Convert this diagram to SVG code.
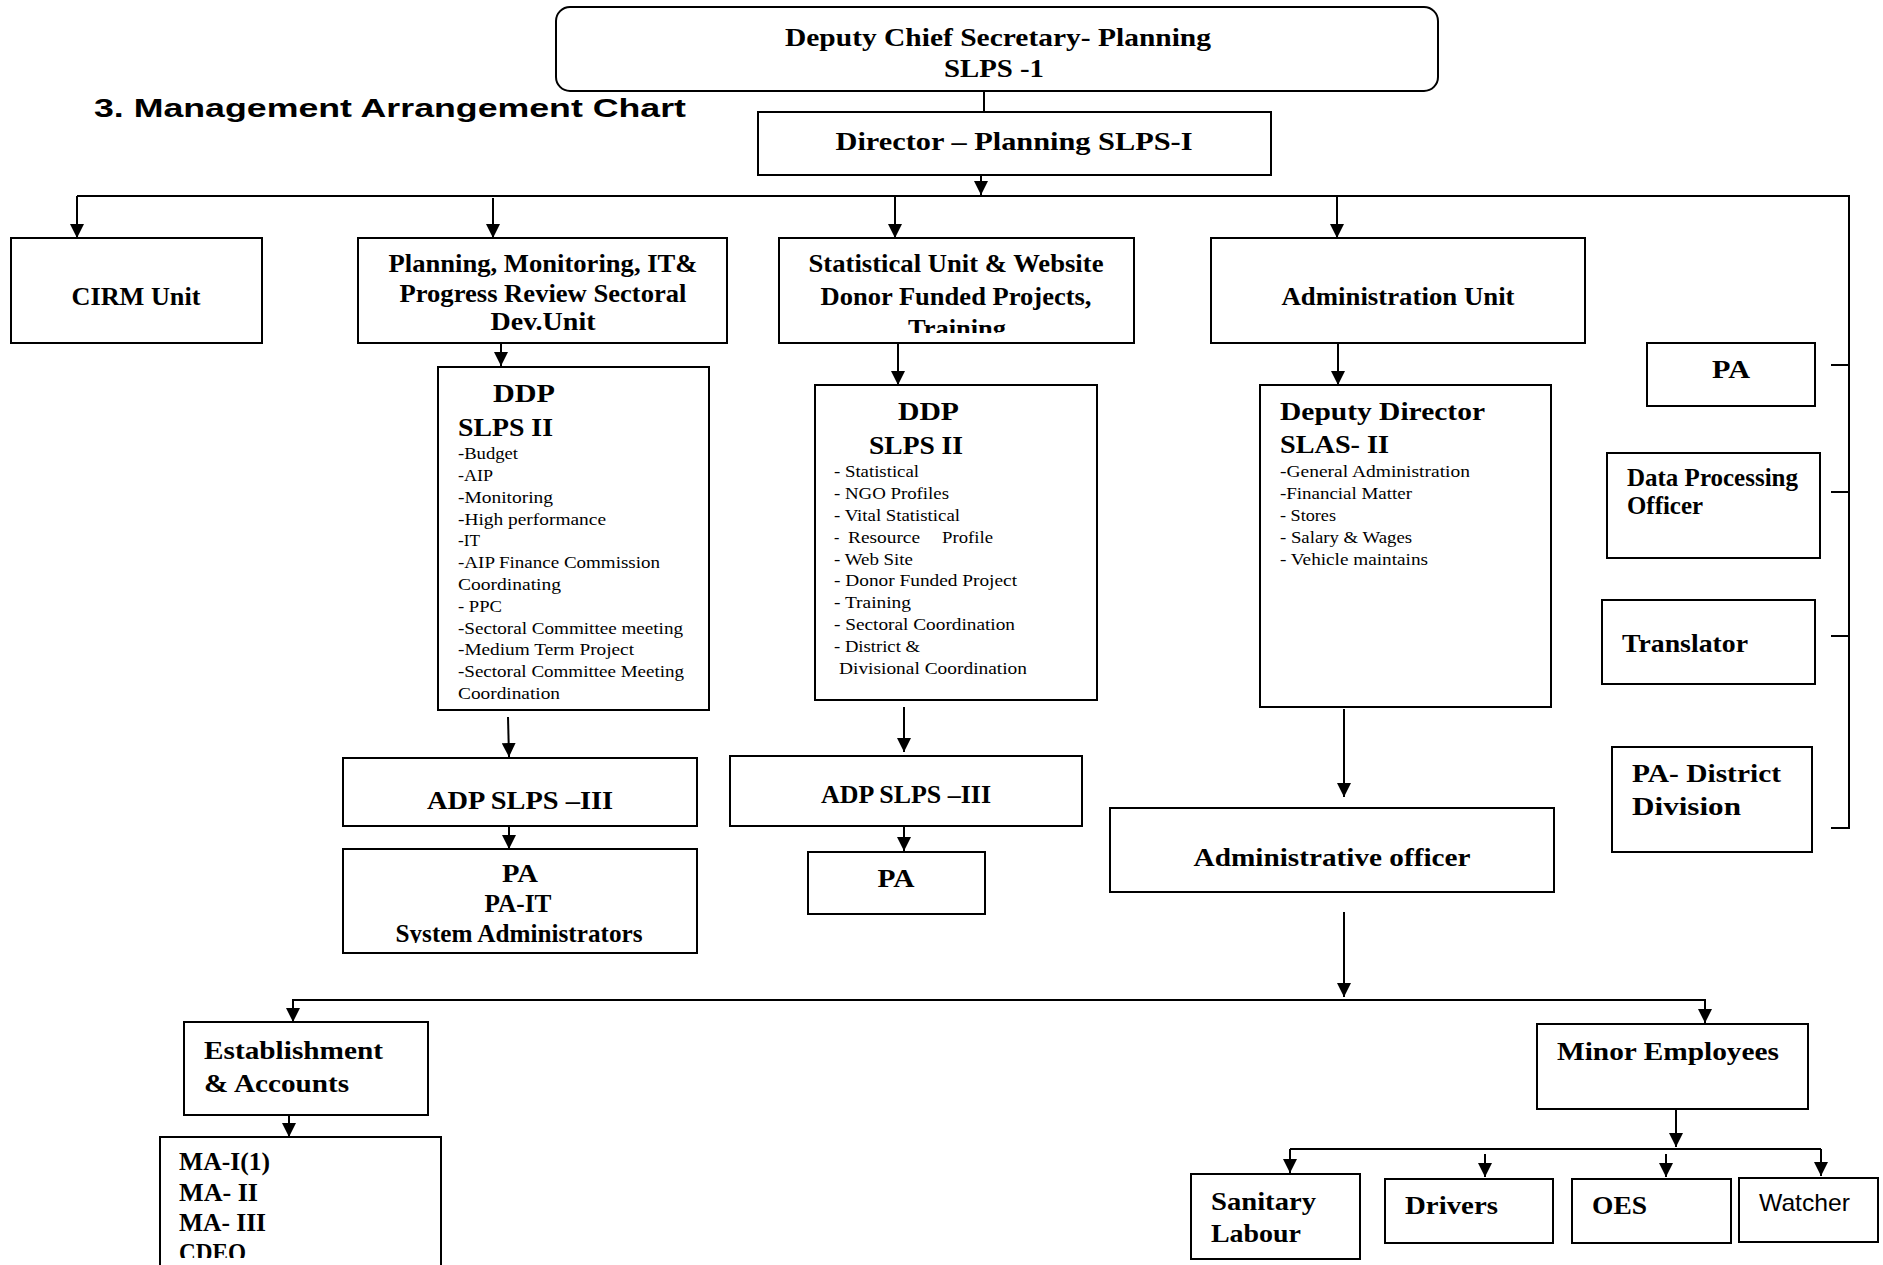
<svg xmlns="http://www.w3.org/2000/svg" width="1883" height="1265" viewBox="0 0 1883 1265">
  <style>
    .box { fill: #fff; stroke: #000; stroke-width: 2; }
    .h { font-family: "Liberation Serif", "Times New Roman", serif; font-weight: bold; font-size: 26px; fill: #000; }
    .s { font-family: "Liberation Serif", "Times New Roman", serif; font-size: 16px; fill: #000; }
    .sans { font-family: "Liberation Sans", Arial, sans-serif; fill: #000; }
    .mid { text-anchor: middle; }
    #connectors line, #connectors polyline { stroke: #000; stroke-width: 2; fill: none; }
  </style>
  <defs>
    <marker id="arrow" markerUnits="userSpaceOnUse" markerWidth="14" markerHeight="14" refX="14" refY="7" orient="auto">
      <path d="M0,0 L14,7 L0,14 z" fill="#000"/>
    </marker>
    <clipPath id="clipStat"><rect x="779" y="238" width="355" height="95"/></clipPath>
    <clipPath id="clipDdp1"><rect x="438" y="367" width="271" height="333"/></clipPath>
    <clipPath id="clipPa1"><rect x="343" y="848" width="354" height="95"/></clipPath>
    <clipPath id="clipMa"><rect x="160" y="1137" width="281" height="121"/></clipPath>
  </defs>

  <rect width="1883" height="1265" fill="#fff"/>

  <text class="sans" x="94" y="117" font-size="25" font-weight="bold" textLength="592" lengthAdjust="spacingAndGlyphs">3. Management Arrangement Chart</text>

  <g id="connectors">
    <line x1="984" y1="91" x2="984" y2="112"/>
    <line x1="981" y1="175" x2="981" y2="195" marker-end="url(#arrow)"/>
    <polyline points="77,196 1849,196 1849,828 1831,828"/>
    <line x1="1831" y1="365" x2="1849" y2="365"/>
    <line x1="1831" y1="492" x2="1849" y2="492"/>
    <line x1="1831" y1="636" x2="1849" y2="636"/>
    <line x1="77" y1="196" x2="77" y2="238" marker-end="url(#arrow)"/>
    <line x1="493" y1="198" x2="493" y2="238" marker-end="url(#arrow)"/>
    <line x1="895" y1="196" x2="895" y2="238" marker-end="url(#arrow)"/>
    <line x1="1337" y1="196" x2="1337" y2="238" marker-end="url(#arrow)"/>
    <line x1="501" y1="343" x2="501" y2="366" marker-end="url(#arrow)"/>
    <line x1="898" y1="343" x2="898" y2="385" marker-end="url(#arrow)"/>
    <line x1="1338" y1="343" x2="1338" y2="385" marker-end="url(#arrow)"/>
    <line x1="508" y1="717" x2="509" y2="757" marker-end="url(#arrow)"/>
    <line x1="904" y1="707" x2="904" y2="752" marker-end="url(#arrow)"/>
    <line x1="509" y1="826" x2="509" y2="849" marker-end="url(#arrow)"/>
    <line x1="904" y1="826" x2="904" y2="851" marker-end="url(#arrow)"/>
    <line x1="1344" y1="709" x2="1344" y2="797" marker-end="url(#arrow)"/>
    <line x1="1344" y1="912" x2="1344" y2="997" marker-end="url(#arrow)"/>
    <polyline points="293,1022 293,1000 1705,1000 1705,1023"/>
    <line x1="293" y1="1000" x2="293" y2="1022" marker-end="url(#arrow)"/>
    <line x1="1705" y1="1000" x2="1705" y2="1023" marker-end="url(#arrow)"/>
    <line x1="289" y1="1115" x2="289" y2="1137" marker-end="url(#arrow)"/>
    <line x1="1676" y1="1108" x2="1676" y2="1147" marker-end="url(#arrow)"/>
    <polyline points="1290,1149 1821,1149"/>
    <line x1="1290" y1="1149" x2="1290" y2="1173" marker-end="url(#arrow)"/>
    <line x1="1485" y1="1154" x2="1485" y2="1177" marker-end="url(#arrow)"/>
    <line x1="1666" y1="1154" x2="1666" y2="1177" marker-end="url(#arrow)"/>
    <line x1="1821" y1="1149" x2="1821" y2="1176" marker-end="url(#arrow)"/>
  </g>

  <!-- top level -->
  <g id="deputy-chief-secretary">
    <rect class="box" x="556" y="7" width="882" height="84" rx="14"/>
    <text class="h mid" x="998" y="46" font-size="27" textLength="426" lengthAdjust="spacingAndGlyphs">Deputy Chief Secretary- Planning</text>
    <text class="h mid" x="994" y="77" font-size="27" textLength="100" lengthAdjust="spacingAndGlyphs">SLPS -1</text>
  </g>

  <g id="director-planning">
    <rect class="box" x="758" y="112" width="513" height="63"/>
    <text class="h mid" x="1014" y="150" font-size="30" textLength="357" lengthAdjust="spacingAndGlyphs">Director – Planning SLPS-I</text>
  </g>

  <!-- units -->
  <g id="cirm-unit">
    <rect class="box" x="11" y="238" width="251" height="105"/>
    <text class="h mid" x="136" y="305" textLength="129" lengthAdjust="spacingAndGlyphs">CIRM Unit</text>
  </g>

  <g id="planning-unit">
    <rect class="box" x="358" y="238" width="369" height="105"/>
    <text class="h mid" x="543" y="272" textLength="309" lengthAdjust="spacingAndGlyphs">Planning, Monitoring, IT&amp;</text>
    <text class="h mid" x="543" y="302" textLength="287" lengthAdjust="spacingAndGlyphs">Progress Review Sectoral</text>
    <text class="h mid" x="543" y="330" textLength="105" lengthAdjust="spacingAndGlyphs">Dev.Unit</text>
  </g>

  <g id="statistical-unit">
    <rect class="box" x="779" y="238" width="355" height="105"/>
    <text class="h mid" x="956" y="272" textLength="295" lengthAdjust="spacingAndGlyphs">Statistical Unit &amp; Website</text>
    <text class="h mid" x="956" y="305" textLength="271" lengthAdjust="spacingAndGlyphs">Donor Funded Projects,</text>
    <text class="h mid" x="957" y="337" textLength="98" lengthAdjust="spacingAndGlyphs" clip-path="url(#clipStat)">Training</text>
  </g>

  <g id="administration-unit">
    <rect class="box" x="1211" y="238" width="374" height="105"/>
    <text class="h mid" x="1398" y="305" textLength="233" lengthAdjust="spacingAndGlyphs">Administration Unit</text>
  </g>

  <!-- second level -->
  <g id="ddp-planning">
    <rect class="box" x="438" y="367" width="271" height="343"/>
    <text class="h" x="493" y="402" font-size="27" textLength="62" lengthAdjust="spacingAndGlyphs">DDP</text>
    <text class="h" x="458" y="436" font-size="27" textLength="95" lengthAdjust="spacingAndGlyphs">SLPS II</text>
    <g clip-path="url(#clipDdp1)">
      <text class="s" x="458" y="459" textLength="60" lengthAdjust="spacingAndGlyphs">-Budget</text>
      <text class="s" x="458" y="481" textLength="35" lengthAdjust="spacingAndGlyphs">-AIP</text>
      <text class="s" x="458" y="503" textLength="95" lengthAdjust="spacingAndGlyphs">-Monitoring</text>
      <text class="s" x="458" y="525" textLength="148" lengthAdjust="spacingAndGlyphs">-High performance</text>
      <text class="s" x="458" y="546" textLength="22" lengthAdjust="spacingAndGlyphs">-IT</text>
      <text class="s" x="458" y="568" textLength="202" lengthAdjust="spacingAndGlyphs">-AIP Finance Commission</text>
      <text class="s" x="458" y="590" textLength="103" lengthAdjust="spacingAndGlyphs">Coordinating</text>
      <text class="s" x="458" y="612" textLength="44" lengthAdjust="spacingAndGlyphs">- PPC</text>
      <text class="s" x="458" y="634" textLength="225" lengthAdjust="spacingAndGlyphs">-Sectoral Committee meeting</text>
      <text class="s" x="458" y="655" textLength="176" lengthAdjust="spacingAndGlyphs">-Medium Term Project</text>
      <text class="s" x="458" y="677" textLength="226" lengthAdjust="spacingAndGlyphs">-Sectoral Committee Meeting</text>
      <text class="s" x="458" y="699" textLength="102" lengthAdjust="spacingAndGlyphs">Coordination</text>
    </g>
  </g>

  <g id="ddp-statistical">
    <rect class="box" x="815" y="385" width="282" height="315"/>
    <text class="h" x="898" y="420" font-size="27" textLength="61" lengthAdjust="spacingAndGlyphs">DDP</text>
    <text class="h" x="869" y="454" font-size="27" textLength="94" lengthAdjust="spacingAndGlyphs">SLPS II</text>
    <text class="s" x="834" y="477" textLength="85" lengthAdjust="spacingAndGlyphs">- Statistical</text>
    <text class="s" x="834" y="499" textLength="115" lengthAdjust="spacingAndGlyphs">- NGO Profiles</text>
    <text class="s" x="834" y="521" textLength="126" lengthAdjust="spacingAndGlyphs">- Vital Statistical</text>
    <text class="s" x="834" y="543">-</text>
    <text class="s" x="848" y="543" textLength="72" lengthAdjust="spacingAndGlyphs">Resource</text>
    <text class="s" x="942" y="543" textLength="51" lengthAdjust="spacingAndGlyphs">Profile</text>
    <text class="s" x="834" y="565" textLength="79" lengthAdjust="spacingAndGlyphs">- Web Site</text>
    <text class="s" x="834" y="586" textLength="183" lengthAdjust="spacingAndGlyphs">- Donor Funded Project</text>
    <text class="s" x="834" y="608" textLength="77" lengthAdjust="spacingAndGlyphs">- Training</text>
    <text class="s" x="834" y="630" textLength="181" lengthAdjust="spacingAndGlyphs">- Sectoral Coordination</text>
    <text class="s" x="834" y="652" textLength="86" lengthAdjust="spacingAndGlyphs">- District &amp;</text>
    <text class="s" x="839" y="674" textLength="188" lengthAdjust="spacingAndGlyphs">Divisional Coordination</text>
  </g>

  <g id="deputy-director">
    <rect class="box" x="1260" y="385" width="291" height="322"/>
    <text class="h" x="1280" y="420" font-size="27" textLength="205" lengthAdjust="spacingAndGlyphs">Deputy Director</text>
    <text class="h" x="1280" y="453" font-size="27" textLength="109" lengthAdjust="spacingAndGlyphs">SLAS- II</text>
    <text class="s" x="1280" y="477" textLength="190" lengthAdjust="spacingAndGlyphs">-General Administration</text>
    <text class="s" x="1280" y="499" textLength="132" lengthAdjust="spacingAndGlyphs">-Financial Matter</text>
    <text class="s" x="1280" y="521" textLength="56" lengthAdjust="spacingAndGlyphs">- Stores</text>
    <text class="s" x="1280" y="543" textLength="132" lengthAdjust="spacingAndGlyphs">- Salary &amp; Wages</text>
    <text class="s" x="1280" y="565" textLength="148" lengthAdjust="spacingAndGlyphs">- Vehicle maintains</text>
  </g>

  <!-- staff attached to the director -->
  <g id="pa-director">
    <rect class="box" x="1647" y="343" width="168" height="63"/>
    <text class="h" x="1712" y="378" textLength="38" lengthAdjust="spacingAndGlyphs">PA</text>
  </g>

  <g id="data-processing-officer">
    <rect class="box" x="1607" y="453" width="213" height="105"/>
    <text class="h" x="1627" y="486" textLength="171" lengthAdjust="spacingAndGlyphs">Data Processing</text>
    <text class="h" x="1627" y="514" textLength="76" lengthAdjust="spacingAndGlyphs">Officer</text>
  </g>

  <g id="translator">
    <rect class="box" x="1602" y="600" width="213" height="84"/>
    <text class="h" x="1622" y="652" textLength="126" lengthAdjust="spacingAndGlyphs">Translator</text>
  </g>

  <g id="pa-district-division">
    <rect class="box" x="1612" y="747" width="200" height="105"/>
    <text class="h" x="1632" y="782" textLength="149" lengthAdjust="spacingAndGlyphs">PA- District</text>
    <text class="h" x="1632" y="815" textLength="109" lengthAdjust="spacingAndGlyphs">Division</text>
  </g>

  <!-- third level -->
  <g id="adp-planning">
    <rect class="box" x="343" y="758" width="354" height="68"/>
    <text class="h mid" x="520" y="809" textLength="186" lengthAdjust="spacingAndGlyphs">ADP SLPS –III</text>
  </g>

  <g id="pa-planning">
    <rect class="box" x="343" y="849" width="354" height="104"/>
    <text class="h mid" x="520" y="882" textLength="36" lengthAdjust="spacingAndGlyphs">PA</text>
    <text class="h mid" x="518" y="912" textLength="67" lengthAdjust="spacingAndGlyphs">PA-IT</text>
    <text class="h mid" x="519" y="942" textLength="247" lengthAdjust="spacingAndGlyphs" clip-path="url(#clipPa1)">System Administrators</text>
  </g>

  <g id="adp-statistical">
    <rect class="box" x="730" y="756" width="352" height="70"/>
    <text class="h mid" x="906" y="803" textLength="170" lengthAdjust="spacingAndGlyphs">ADP SLPS –III</text>
  </g>

  <g id="pa-statistical">
    <rect class="box" x="808" y="852" width="177" height="62"/>
    <text class="h mid" x="896" y="887" textLength="37" lengthAdjust="spacingAndGlyphs">PA</text>
  </g>

  <g id="administrative-officer">
    <rect class="box" x="1110" y="808" width="444" height="84"/>
    <text class="h mid" x="1332" y="866" font-size="28" textLength="277" lengthAdjust="spacingAndGlyphs">Administrative officer</text>
  </g>

  <!-- lower level -->
  <g id="establishment-accounts">
    <rect class="box" x="184" y="1022" width="244" height="93"/>
    <text class="h" x="204" y="1059" textLength="179" lengthAdjust="spacingAndGlyphs">Establishment</text>
    <text class="h" x="204" y="1092" textLength="145" lengthAdjust="spacingAndGlyphs">&amp; Accounts</text>
  </g>

  <g id="management-assistants">
    <rect class="box" x="160" y="1137" width="281" height="140"/>
    <text class="h" x="179" y="1170" textLength="91" lengthAdjust="spacingAndGlyphs">MA-I(1)</text>
    <text class="h" x="179" y="1201" textLength="79" lengthAdjust="spacingAndGlyphs">MA- II</text>
    <text class="h" x="179" y="1231" textLength="87" lengthAdjust="spacingAndGlyphs">MA- III</text>
    <text class="h" x="179" y="1261" textLength="67" lengthAdjust="spacingAndGlyphs" clip-path="url(#clipMa)">CDEO</text>
  </g>

  <g id="minor-employees">
    <rect class="box" x="1537" y="1024" width="271" height="85"/>
    <text class="h" x="1557" y="1060" textLength="222" lengthAdjust="spacingAndGlyphs">Minor Employees</text>
  </g>

  <g id="sanitary-labour">
    <rect class="box" x="1191" y="1174" width="169" height="85"/>
    <text class="h" x="1211" y="1210" textLength="105" lengthAdjust="spacingAndGlyphs">Sanitary</text>
    <text class="h" x="1211" y="1242" textLength="90" lengthAdjust="spacingAndGlyphs">Labour</text>
  </g>

  <g id="drivers">
    <rect class="box" x="1385" y="1179" width="168" height="64"/>
    <text class="h" x="1405" y="1214" textLength="93" lengthAdjust="spacingAndGlyphs">Drivers</text>
  </g>

  <g id="oes">
    <rect class="box" x="1572" y="1179" width="159" height="64"/>
    <text class="h" x="1592" y="1214" textLength="55" lengthAdjust="spacingAndGlyphs">OES</text>
  </g>

  <g id="watcher">
    <rect class="box" x="1739" y="1178" width="139" height="64"/>
    <text class="sans" x="1759" y="1211" font-size="24" textLength="91" lengthAdjust="spacingAndGlyphs">Watcher</text>
  </g>
</svg>
